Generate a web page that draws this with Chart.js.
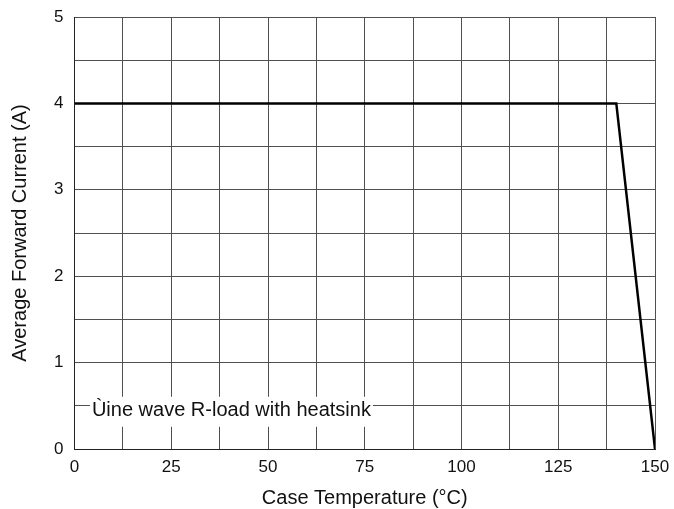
<!DOCTYPE html>
<html>
<head>
<meta charset="utf-8">
<script src="https://cdn.jsdelivr.net/npm/chart.js@4"></script>
<style>
  html, body { margin: 0; padding: 0; background: #fff; }
  #wrap { width: 674px; height: 509px; }
</style>
</head>
<body>
<div id="wrap"><canvas id="myChart" width="674" height="509"></canvas></div>
<script>
// derating curve
const caseTemp = [0, 140, 150];   // x values in °C
const fwdCurrent = [4, 4, 0];     // y values in A

// tick labels shown on the axes (grid is drawn every half step)
const xTickLabels = [0, 25, 50, 75, 100, 125, 150];
const yTickLabels = [0, 1, 2, 3, 4, 5];

// note inside the plot
const noteText = "Ùine wave R-load with heatsink";
const noteX = 4.5;    // °C where the text starts
const noteY = 0.385;  // A, text baseline

const FONT = "'Liberation Sans', Arial, sans-serif";

const points = caseTemp.map((t, i) => ({ x: t, y: fwdCurrent[i] }));

// draws the note with a white box behind it so it hides the grid lines
const notePlugin = {
    id: "note",
    afterDatasetsDraw(chart) {
        const ctx = chart.ctx;
        const x = chart.scales.x.getPixelForValue(noteX);
        const y = chart.scales.y.getPixelForValue(noteY);
        ctx.save();
        ctx.font = "20px " + FONT;
        ctx.textBaseline = "alphabetic";
        const w = ctx.measureText(noteText).width;
        ctx.fillStyle = "#fff";
        ctx.fillRect(x - 2, y - 19, w + 4, 30);
        ctx.fillStyle = "#111";
        ctx.fillText(noteText, x, y);
        ctx.restore();
    }
};

// keep the plot box fixed: no extra room for labels hanging over the ends
function noOverflow(scale) {
    scale.paddingLeft = 0;
    scale.paddingRight = 0;
    scale.paddingTop = 0;
    scale.paddingBottom = 0;
}

const config = {
    type: "scatter",
    data: {
        datasets: [{
            data: points,
            showLine: true,
            borderColor: "#000",
            backgroundColor: "#000",
            borderWidth: 2.5,
            pointRadius: 0,
            tension: 0
        }]
    },
    options: {
        responsive: false,
        animation: false,
        devicePixelRatio: 1,
        layout: { padding: { top: 17, right: 19, left: 0, bottom: 0 } },
        plugins: {
            legend: { display: false },
            tooltip: { enabled: false }
        },
        scales: {
            x: {
                type: "linear",
                min: 0,
                max: 150,
                afterFit(scale) { scale.height = 60; noOverflow(scale); },
                ticks: {
                    stepSize: 12.5,
                    autoSkip: false,
                    maxRotation: 0,
                    padding: 8,
                    color: "#111",
                    font: { family: FONT, size: 17 },
                    callback: v => xTickLabels.includes(v) ? String(v) : ""
                },
                grid: { color: "#505050", lineWidth: 1, drawTicks: false },
                border: { color: "#222", width: 1 },
                title: {
                    display: true,
                    text: "Case Temperature (°C)",
                    color: "#111",
                    font: { family: FONT, size: 20 },
                    padding: { top: 4, bottom: -1 }
                }
            },
            y: {
                min: 0,
                max: 5,
                afterFit(scale) { scale.width = 74.5; noOverflow(scale); },
                ticks: {
                    stepSize: 0.5,
                    autoSkip: false,
                    padding: 11,
                    color: "#111",
                    font: { family: FONT, size: 17 },
                    callback: v => yTickLabels.includes(v) ? String(v) : ""
                },
                grid: { color: "#505050", lineWidth: 1, drawTicks: false },
                border: { color: "#222", width: 1 },
                title: {
                    display: true,
                    text: "Average Forward Current (A)",
                    color: "#111",
                    font: { family: FONT, size: 20 },
                    padding: { top: 8, bottom: 0 }
                }
            }
        }
    },
    plugins: [notePlugin]
};

const ctx = document.getElementById("myChart").getContext("2d");
const myChart = new Chart(ctx, config);
</script>
</body>
</html>
